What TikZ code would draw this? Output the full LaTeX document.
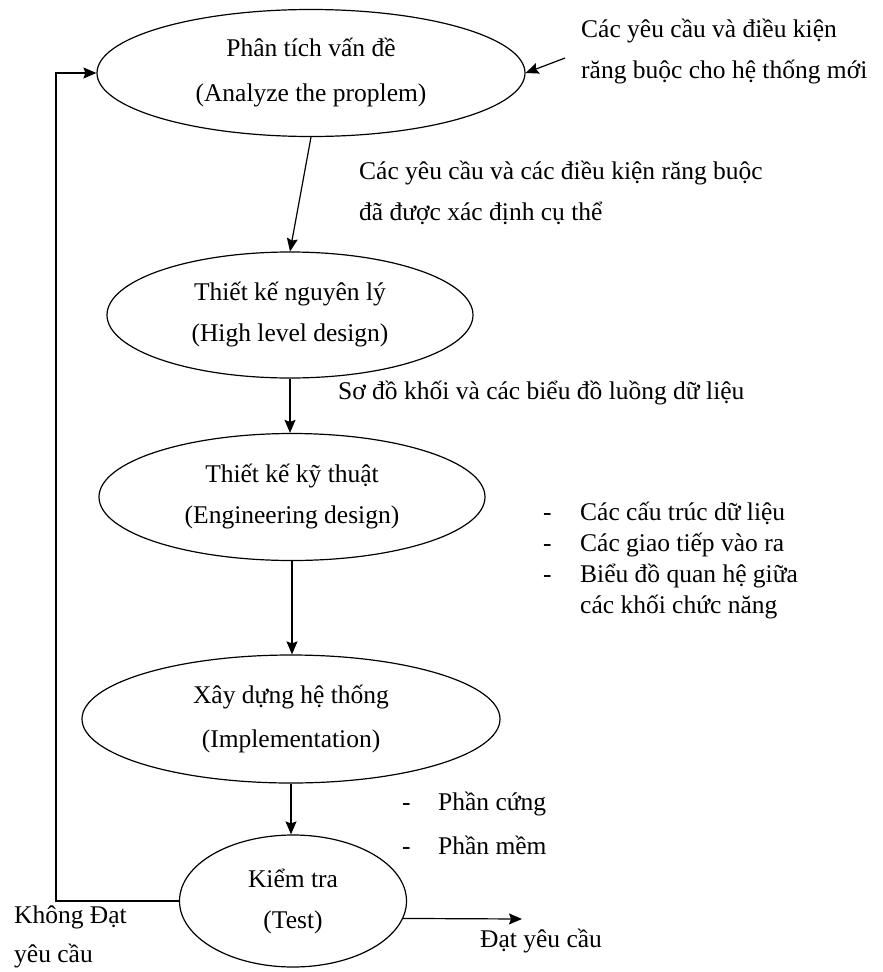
\documentclass[tikz,border=0pt]{standalone}
\usepackage{fontspec}
\setmainfont{Liberation Serif}
\usetikzlibrary{shapes.geometric,arrows.meta}

\tikzset{
  etape/.style={draw, ellipse, line width=1.2pt, inner sep=0pt, align=center},
  fleche/.style={line width=1.2pt, -{Stealth[length=13pt,width=11pt,inset=2pt]}},
  texte/.style={anchor=west, align=left, inner sep=0pt},
}

\begin{document}
\begin{tikzpicture}[x=1pt,y=-1pt, font=\fontsize{25.5}{41}\selectfont]
  \useasboundingbox (0,0) rectangle (883,972);

  % ------ les etapes --------
  \node[etape, minimum width=428, minimum height=127, font=\fontsize{25.5}{45}\selectfont]
       (E1) at (311,73) {Phân tích vấn đề\\(Analyze the proplem)};
  \node[etape, minimum width=366, minimum height=126] (E2) at (290,315) {Thiết kế nguyên lý\\(High level design)};
  \node[etape, minimum width=386, minimum height=127] (E3) at (292,497) {Thiết kế kỹ thuật\\(Engineering design)};
  \node[etape, minimum width=418, minimum height=128, font=\fontsize{25.5}{44}\selectfont]
       (E4) at (291,719) {Xây dựng hệ thống\\(Implementation)};
  \node[etape, minimum width=227, minimum height=132] (E5) at (293,901) {Kiểm tra\\(Test)};

  % ------ les textes --------
  \node[texte] (contrainte) at (581,52) {Các yêu cầu và điều kiện\\răng buộc cho hệ thống mới};
  \node[texte] (sortie1) at (359,193) {Các yêu cầu và các điều kiện răng buộc\\đã được xác định cụ thể};
  \node[texte] (sortie2) at (338,393) {Sơ đồ khối và các biểu đồ luồng dữ liệu};
  \node[texte, font=\fontsize{25.5}{31}\selectfont] (sortie3) at (543,561)
       {\begin{tabular}{@{}p{37pt}@{}l@{}}
        -&Các cấu trúc dữ liệu\\
        -&Các giao tiếp vào ra\\
        -&Biểu đồ quan hệ giữa\\
         &các khối chức năng
        \end{tabular}};
  \node[texte, font=\fontsize{25.5}{44}\selectfont] (sortie4) at (402,824)
       {\begin{tabular}{@{}p{36pt}@{}l@{}}
        -&Phần cứng\\
        -&Phần mềm
        \end{tabular}};
  \node[texte, font=\fontsize{25.5}{39}\selectfont] (khongdat) at (14,937) {Không Đạt\\yêu cầu};
  \node[texte] (dat) at (480,941) {Đạt yêu cầu};

  % ------ les fleches --------
  \coordinate (source) at (565,58);
  \coordinate (retour) at (56,901);
  \coordinate (fin) at (522,919);

  \draw[fleche] (source) -- (E1.east);
  \draw[fleche] (E1.south) -- (E2.north);
  \draw[fleche] (E2.south) -- (E2.south |- E3.north);
  \draw[fleche] (E3.south) -- (E3.south |- E4.north);
  \draw[fleche] (E4.south) -- (E4.south |- E5.north);
  \draw[fleche] (E5.west) -- (retour) |- (E1.west);  % non conforme
  \draw[fleche] (E5.-9) -- (fin);  % conforme
\end{tikzpicture}
\end{document}
